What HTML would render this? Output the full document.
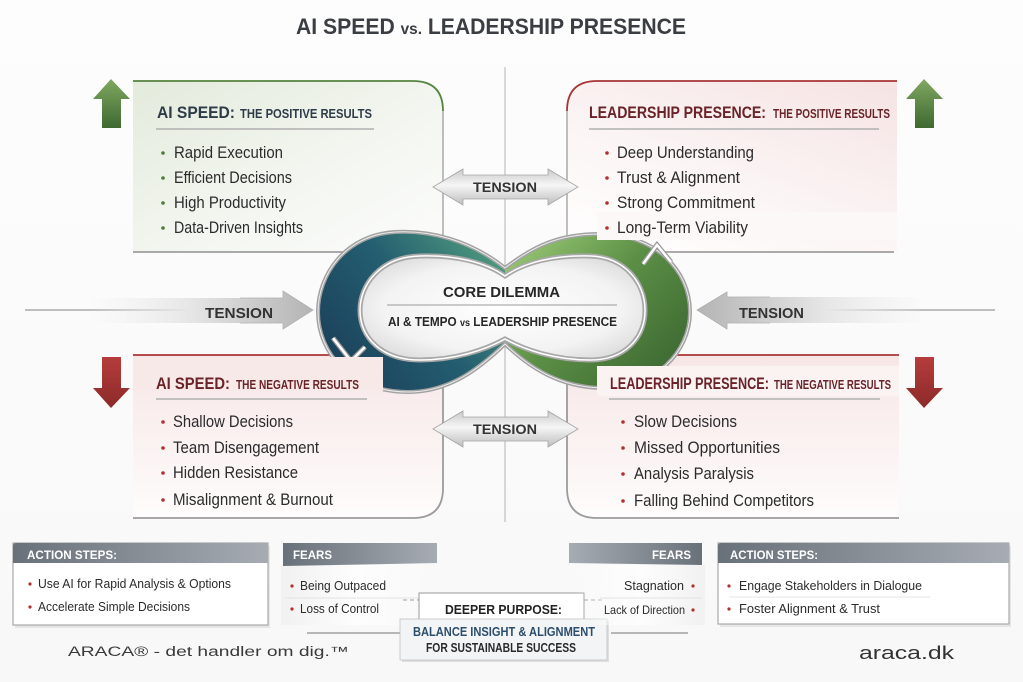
<!DOCTYPE html>
<html><head><meta charset="utf-8">
<style>
html,body{margin:0;padding:0;background:#fcfcfc;}
svg{display:block;}
text{font-family:"Liberation Sans",Arial,sans-serif;}
</style></head><body>
<svg width="1023" height="682" viewBox="0 0 1023 682" xmlns="http://www.w3.org/2000/svg">
<defs>
 <linearGradient id="bg" x1="0" y1="0" x2="0" y2="1"><stop offset="0" stop-color="#fdfdfd"/><stop offset="1" stop-color="#f8f8f8"/></linearGradient>
 <linearGradient id="gArrow" x1="0" y1="0" x2="0" y2="1"><stop offset="0" stop-color="#80a862"/><stop offset="1" stop-color="#3e6930"/></linearGradient>
 <linearGradient id="rArrow" x1="0" y1="0" x2="0" y2="1"><stop offset="0" stop-color="#b63c3c"/><stop offset="1" stop-color="#8c2a2a"/></linearGradient>
 <linearGradient id="gFill" x1="0" y1="0" x2="1" y2="1"><stop offset="0" stop-color="#e3ebdc"/><stop offset="0.55" stop-color="#f3f6f0"/><stop offset="1" stop-color="#fcfcfb"/></linearGradient>
 <linearGradient id="pFillR" x1="1" y1="0" x2="0.3" y2="1"><stop offset="0" stop-color="#f6e3e3"/><stop offset="0.6" stop-color="#fbf4f4"/><stop offset="1" stop-color="#fefcfc"/></linearGradient>
 <linearGradient id="pFillB" x1="0" y1="0" x2="0" y2="1"><stop offset="0" stop-color="#f7e6e6"/><stop offset="1" stop-color="#fefcfc"/></linearGradient>
 <linearGradient id="tens" x1="0" y1="0" x2="0" y2="1"><stop offset="0" stop-color="#c9c9c9"/><stop offset="0.45" stop-color="#f6f6f6"/><stop offset="1" stop-color="#bdbdbd"/></linearGradient>
 <linearGradient id="tensL" x1="90" y1="0" x2="313" y2="0" gradientUnits="userSpaceOnUse"><stop offset="0" stop-color="#eeeeee" stop-opacity="0"/><stop offset="0.45" stop-color="#e6e6e6"/><stop offset="1" stop-color="#b4b4b4"/></linearGradient>
 <linearGradient id="tensR" x1="930" y1="0" x2="697" y2="0" gradientUnits="userSpaceOnUse"><stop offset="0" stop-color="#eeeeee" stop-opacity="0"/><stop offset="0.45" stop-color="#e6e6e6"/><stop offset="1" stop-color="#b4b4b4"/></linearGradient>
 <linearGradient id="bandL" x1="330" y1="385" x2="500" y2="255" gradientUnits="userSpaceOnUse"><stop offset="0" stop-color="#1a3d58"/><stop offset="0.55" stop-color="#245e70"/><stop offset="1" stop-color="#4f9a7e"/></linearGradient>
 <linearGradient id="bandR" x1="530" y1="235" x2="680" y2="380" gradientUnits="userSpaceOnUse"><stop offset="0" stop-color="#95c472"/><stop offset="0.45" stop-color="#5b8e45"/><stop offset="1" stop-color="#3a6530"/></linearGradient>
 <radialGradient id="lens" cx="0.5" cy="0.5" r="0.6"><stop offset="0" stop-color="#ffffff"/><stop offset="0.7" stop-color="#f3f3f3"/><stop offset="1" stop-color="#dcdcdc"/></radialGradient>
 <linearGradient id="hdr" x1="0" y1="0" x2="1" y2="0"><stop offset="0" stop-color="#687079"/><stop offset="1" stop-color="#a7acb3"/></linearGradient>
 <linearGradient id="hdrR" x1="1" y1="0" x2="0" y2="0"><stop offset="0" stop-color="#687079"/><stop offset="1" stop-color="#a7acb3"/></linearGradient>
 <linearGradient id="titleLine" x1="0" y1="0" x2="1" y2="0"><stop offset="0" stop-color="#8f8f8f"/><stop offset="0.6" stop-color="#9a9a9a"/><stop offset="1" stop-color="#c8c8c8"/></linearGradient>
 <linearGradient id="fearL" x1="0" y1="0" x2="1" y2="0"><stop offset="0" stop-color="#f1f1f1"/><stop offset="0.5" stop-color="#fdfdfd"/><stop offset="1" stop-color="#fdfdfd" stop-opacity="0"/></linearGradient>
 <linearGradient id="fearR" x1="1" y1="0" x2="0" y2="0"><stop offset="0" stop-color="#f1f1f1"/><stop offset="0.5" stop-color="#fdfdfd"/><stop offset="1" stop-color="#fdfdfd" stop-opacity="0"/></linearGradient>
 <clipPath id="cL"><rect x="0" y="0" width="505" height="682"/></clipPath>
 <clipPath id="cR"><rect x="505" y="0" width="518" height="682"/></clipPath>
</defs>

<rect width="1023" height="682" fill="url(#bg)"/>

<!-- Title -->
<text x="296" y="34" font-size="22" font-weight="bold" fill="#3a3d42" textLength="390" lengthAdjust="spacingAndGlyphs">AI SPEED <tspan font-size="16">vs.</tspan> LEADERSHIP PRESENCE</text>
<line x1="12" y1="47" x2="1010" y2="47" stroke="url(#titleLine)" stroke-width="1.6"/>

<!-- grid lines -->
<line x1="505" y1="67" x2="505" y2="522" stroke="#c4c4c4" stroke-width="1.3"/>

<!-- TL box -->
<path d="M133,81 L413,81 Q443,81 443,111 L443,252 L133,252 Z" fill="url(#gFill)"/>
<path d="M133,81 L413,81 Q443,81 443,111" fill="none" stroke="#55833f" stroke-width="1.8"/>
<path d="M443,111 L443,252" fill="none" stroke="#a9a9a9" stroke-width="1.5"/>
<line x1="133" y1="252" x2="443" y2="252" stroke="#9e9e9e" stroke-width="1.8"/>

<!-- TR box -->
<path d="M897,81 L597,81 Q567,81 567,111 L567,252 L897,252 Z" fill="url(#pFillR)"/>
<path d="M897,81 L597,81 Q567,81 567,111" fill="none" stroke="#a83535" stroke-width="1.8"/>
<path d="M567,111 L567,252" fill="none" stroke="#a9a9a9" stroke-width="1.5"/>
<line x1="567" y1="252" x2="894" y2="252" stroke="#9e9e9e" stroke-width="1.8"/>

<!-- middle vertical connectors -->
<line x1="443" y1="252" x2="443" y2="355" stroke="#bcbcbc" stroke-width="1.3"/>
<line x1="567" y1="252" x2="567" y2="355" stroke="#bcbcbc" stroke-width="1.3"/>

<!-- BL box -->
<path d="M133,355 L443,355 L443,488 Q443,518 413,518 L133,518 Z" fill="url(#pFillB)"/>
<line x1="133" y1="355" x2="443" y2="355" stroke="#a83535" stroke-width="1.8"/>
<path d="M443,355 L443,488 Q443,518 413,518 L133,518" fill="none" stroke="#9c9c9c" stroke-width="1.8"/>

<!-- BR box -->
<path d="M899,355 L567,355 L567,488 Q567,518 597,518 L899,518 Z" fill="url(#pFillB)"/>
<line x1="567" y1="355" x2="899" y2="355" stroke="#a83535" stroke-width="1.8"/>
<path d="M567,355 L567,488 Q567,518 597,518 L899,518" fill="none" stroke="#9c9c9c" stroke-width="1.8"/>

<!-- green up arrows -->
<path d="M111,79 L130,99 L121,99 L121,128 L102,128 L102,99 L93,99 Z" fill="url(#gArrow)"/>
<path d="M924,79 L943,99 L934,99 L934,128 L915,128 L915,99 L906,99 Z" fill="url(#gArrow)"/>
<!-- red down arrows -->
<path d="M102,357 L121,357 L121,388 L130,388 L111,408 L93,388 L102,388 Z" fill="url(#rArrow)"/>
<path d="M915,357 L934,357 L934,388 L943,388 L924,408 L906,388 L915,388 Z" fill="url(#rArrow)"/>

<!-- TL text -->
<text x="157" y="118" font-size="16.5" font-weight="bold" fill="#2e3c48" textLength="78" lengthAdjust="spacingAndGlyphs">AI SPEED:</text>
<text x="240" y="118" font-size="13" font-weight="bold" fill="#2e3c48" textLength="132" lengthAdjust="spacingAndGlyphs">THE POSITIVE RESULTS</text>
<line x1="156" y1="129" x2="374" y2="129" stroke="#b0b0b0" stroke-width="1.5"/>
<g fill="#4f7a3a"><circle cx="163" cy="153" r="1.8"/><circle cx="163" cy="178" r="1.8"/><circle cx="163" cy="203" r="1.8"/><circle cx="163" cy="228" r="1.8"/></g>
<g font-size="16.5" fill="#2b2b2b">
<text x="174" y="158" textLength="109" lengthAdjust="spacingAndGlyphs">Rapid Execution</text>
<text x="174" y="183" textLength="118" lengthAdjust="spacingAndGlyphs">Efficient Decisions</text>
<text x="174" y="208" textLength="112" lengthAdjust="spacingAndGlyphs">High Productivity</text>
<text x="174" y="233" textLength="129" lengthAdjust="spacingAndGlyphs">Data-Driven Insights</text>
</g>

<!-- Infinity -->
<g>
 <path id="outer" d="M505,268 C470,240 430,230 395,232 C345,235 318,275 318,312 C318,352 350,392 408,392 C450,392 480,368 505,344 C530,368 560,388 605,388 C655,388 690,352 690,312 C690,270 655,234 600,234 C560,234 535,245 505,268 Z" fill="url(#bandL)" clip-path="url(#cL)"/>
 <path d="M505,268 C470,240 430,230 395,232 C345,235 318,275 318,312 C318,352 350,392 408,392 C450,392 480,368 505,344 C530,368 560,388 605,388 C655,388 690,352 690,312 C690,270 655,234 600,234 C560,234 535,245 505,268 Z" fill="url(#bandR)" clip-path="url(#cR)"/>
 <path d="M505,268 C470,240 430,230 395,232 C345,235 318,275 318,312 C318,352 350,392 408,392 C450,392 480,368 505,344 C530,368 560,388 605,388 C655,388 690,352 690,312 C690,270 655,234 600,234 C560,234 535,245 505,268 Z" fill="none" stroke="#a2a2a2" stroke-width="4"/>
 <path d="M505,268 C470,240 430,230 395,232 C345,235 318,275 318,312 C318,352 350,392 408,392 C450,392 480,368 505,344 C530,368 560,388 605,388 C655,388 690,352 690,312 C690,270 655,234 600,234 C560,234 535,245 505,268 Z" fill="none" stroke="#ffffff" stroke-width="1" opacity="0.8"/>
 <!-- notches -->
 <polyline points="333,338 351,361 365,347" fill="none" stroke="#9a9a9a" stroke-width="5"/>
 <polyline points="333,338 351,361 365,347" fill="none" stroke="#ffffff" stroke-width="2.5"/>
 <polyline points="643,264 657,245 671,262" fill="none" stroke="#9a9a9a" stroke-width="5"/>
 <polyline points="643,264 657,245 671,262" fill="none" stroke="#ffffff" stroke-width="2.5"/>
 <!-- inner lens -->
 <path d="M505,276 C485,262 455,255 420,256 C380,257 360,285 360,310 C360,338 382,360 420,360 C455,360 485,350 505,339 C525,350 555,360 590,360 C625,360 645,338 645,310 C645,283 625,257 590,256 C555,255 525,262 505,276 Z" fill="url(#lens)" stroke="#a8a8a8" stroke-width="5"/>
 <path d="M505,276 C485,262 455,255 420,256 C380,257 360,285 360,310 C360,338 382,360 420,360 C455,360 485,350 505,339 C525,350 555,360 590,360 C625,360 645,338 645,310 C645,283 625,257 590,256 C555,255 525,262 505,276 Z" fill="none" stroke="#ffffff" stroke-width="1.5"/>
</g>
<text x="443" y="297" font-size="15" font-weight="bold" fill="#262626" textLength="117" lengthAdjust="spacingAndGlyphs">CORE DILEMMA</text>
<line x1="387" y1="305" x2="617" y2="305" stroke="#9a9a9a" stroke-width="1"/>
<text x="388" y="326" font-size="13" font-weight="bold" fill="#262626" textLength="229" lengthAdjust="spacingAndGlyphs">AI &amp; TEMPO <tspan font-size="10">vs</tspan> LEADERSHIP PRESENCE</text>

<!-- overlays covering infinity -->
<rect x="597" y="212" width="300" height="28" fill="#fdf8f8"/>
<rect x="597" y="366" width="302" height="30" fill="#fbf2f2"/>
<rect x="133" y="357" width="250" height="34" fill="#f8e9e9"/>

<!-- TR text -->
<text x="589" y="118" font-size="16.5" font-weight="bold" fill="#6a2329" textLength="177" lengthAdjust="spacingAndGlyphs">LEADERSHIP PRESENCE:</text>
<text x="773" y="118" font-size="13" font-weight="bold" fill="#6a2329" textLength="117" lengthAdjust="spacingAndGlyphs">THE POSITIVE RESULTS</text>
<line x1="589" y1="129" x2="879" y2="129" stroke="#b0b0b0" stroke-width="1.5"/>
<g fill="#b03030"><circle cx="607" cy="153" r="1.8"/><circle cx="607" cy="178" r="1.8"/><circle cx="607" cy="203" r="1.8"/><circle cx="607" cy="228" r="1.8"/></g>
<g font-size="16.5" fill="#2b2b2b">
<text x="617" y="158" textLength="137" lengthAdjust="spacingAndGlyphs">Deep Understanding</text>
<text x="617" y="183" textLength="123" lengthAdjust="spacingAndGlyphs">Trust &amp; Alignment</text>
<text x="617" y="208" textLength="138" lengthAdjust="spacingAndGlyphs">Strong Commitment</text>
<text x="617" y="233" textLength="131" lengthAdjust="spacingAndGlyphs">Long-Term Viability</text>
</g>

<!-- BL text -->
<text x="156" y="389" font-size="17" font-weight="bold" fill="#6a2329" textLength="74" lengthAdjust="spacingAndGlyphs">AI SPEED:</text>
<text x="236" y="389" font-size="13" font-weight="bold" fill="#6a2329" textLength="123" lengthAdjust="spacingAndGlyphs">THE NEGATIVE RESULTS</text>
<line x1="156" y1="399" x2="367" y2="399" stroke="#b0b0b0" stroke-width="1.5"/>
<g fill="#b03030"><circle cx="163" cy="422" r="1.8"/><circle cx="163" cy="448" r="1.8"/><circle cx="163" cy="473" r="1.8"/><circle cx="163" cy="500" r="1.8"/></g>
<g font-size="16.5" fill="#2b2b2b">
<text x="173" y="427" textLength="120" lengthAdjust="spacingAndGlyphs">Shallow Decisions</text>
<text x="173" y="453" textLength="146" lengthAdjust="spacingAndGlyphs">Team Disengagement</text>
<text x="173" y="478" textLength="125" lengthAdjust="spacingAndGlyphs">Hidden Resistance</text>
<text x="173" y="505" textLength="160" lengthAdjust="spacingAndGlyphs">Misalignment &amp; Burnout</text>
</g>

<!-- BR text -->
<text x="610" y="389" font-size="17" font-weight="bold" fill="#6a2329" textLength="159" lengthAdjust="spacingAndGlyphs">LEADERSHIP PRESENCE:</text>
<text x="774" y="389" font-size="13" font-weight="bold" fill="#6a2329" textLength="117" lengthAdjust="spacingAndGlyphs">THE NEGATIVE RESULTS</text>
<line x1="609" y1="399" x2="880" y2="399" stroke="#b0b0b0" stroke-width="1.5"/>
<g fill="#b03030"><circle cx="623" cy="422" r="1.8"/><circle cx="623" cy="448" r="1.8"/><circle cx="623" cy="474" r="1.8"/><circle cx="623" cy="501" r="1.8"/></g>
<g font-size="16.5" fill="#2b2b2b">
<text x="634" y="427" textLength="103" lengthAdjust="spacingAndGlyphs">Slow Decisions</text>
<text x="634" y="453" textLength="146" lengthAdjust="spacingAndGlyphs">Missed Opportunities</text>
<text x="634" y="479" textLength="120" lengthAdjust="spacingAndGlyphs">Analysis Paralysis</text>
<text x="634" y="506" textLength="180" lengthAdjust="spacingAndGlyphs">Falling Behind Competitors</text>
</g>

<!-- Tension arrows -->
<path d="M433,187 L463,169 L463,175 L548,175 L548,169 L578,187 L548,205 L548,199 L463,199 L463,205 Z" fill="url(#tens)" stroke="#a5a5a5" stroke-width="0.8"/>
<text x="473" y="192" font-size="14" font-weight="bold" fill="#333" textLength="64" lengthAdjust="spacingAndGlyphs">TENSION</text>
<path d="M433,429 L463,411 L463,417 L548,417 L548,411 L578,429 L548,447 L548,441 L463,441 L463,447 Z" fill="url(#tens)" stroke="#a5a5a5" stroke-width="0.8"/>
<text x="473" y="434" font-size="14" font-weight="bold" fill="#333" textLength="64" lengthAdjust="spacingAndGlyphs">TENSION</text>

<line x1="25" y1="310" x2="187" y2="310" stroke="#9a9a9a" stroke-width="1.3"/>
<path d="M90,298 L283,298 L283,291 L313,310 L283,329 L283,323 L90,323 Z" fill="url(#tensL)"/>
<path d="M240,298 L283,298 L283,291 L313,310 L283,329 L283,323 L240,323" fill="none" stroke="#b0b0b0" stroke-width="0.8"/>
<text x="205" y="318" font-size="15" font-weight="bold" fill="#333" textLength="68" lengthAdjust="spacingAndGlyphs">TENSION</text>

<line x1="822" y1="310" x2="995" y2="310" stroke="#9a9a9a" stroke-width="1.3"/>
<path d="M920,297 L727,297 L727,292 L697,310 L727,329 L727,323 L920,323 Z" fill="url(#tensR)"/>
<path d="M770,297 L727,297 L727,292 L697,310 L727,329 L727,323 L770,323" fill="none" stroke="#b0b0b0" stroke-width="0.8"/>
<text x="739" y="318" font-size="15" font-weight="bold" fill="#333" textLength="65" lengthAdjust="spacingAndGlyphs">TENSION</text>

<!-- Bottom: left action steps -->
<rect x="15" y="546" width="255" height="82" fill="#d8d8d8" opacity="0.6"/>
<rect x="13" y="543" width="255" height="82" fill="#ffffff" stroke="#a9a9a9" stroke-width="1.2"/>
<path d="M13,563 L13,546 Q13,543 16,543 L265,543 Q268,543 268,546 L268,563 Z" fill="url(#hdr)"/>
<text x="27" y="559" font-size="12" font-weight="bold" fill="#ffffff" textLength="90" lengthAdjust="spacingAndGlyphs">ACTION STEPS:</text>
<g fill="#b03030"><circle cx="30" cy="584" r="1.6"/><circle cx="30" cy="607" r="1.6"/></g>
<g font-size="13" fill="#2b2b2b">
<text x="38" y="588" textLength="193" lengthAdjust="spacingAndGlyphs">Use AI for Rapid Analysis &amp; Options</text>
<text x="38" y="611" textLength="152" lengthAdjust="spacingAndGlyphs">Accelerate Simple Decisions</text>
</g>

<!-- left fears -->
<rect x="281" y="565" width="150" height="60" fill="url(#fearL)"/>
<path d="M283,543 L437,543 L437,563 L283,566 Z" fill="url(#hdr)"/>
<text x="293" y="559" font-size="12" font-weight="bold" fill="#ffffff" textLength="39" lengthAdjust="spacingAndGlyphs">FEARS</text>
<line x1="285" y1="598" x2="420" y2="598" stroke="#e2e2e2" stroke-width="1"/>
<g fill="#b03030"><circle cx="292" cy="586" r="1.6"/><circle cx="292" cy="609" r="1.6"/></g>
<g font-size="13" fill="#2b2b2b">
<text x="300" y="590" textLength="86" lengthAdjust="spacingAndGlyphs">Being Outpaced</text>
<text x="300" y="613" textLength="79" lengthAdjust="spacingAndGlyphs">Loss of Control</text>
</g>
<line x1="307" y1="633" x2="400" y2="633" stroke="#a0a0a0" stroke-width="1.5"/>
<line x1="403" y1="600" x2="419" y2="600" stroke="#999" stroke-width="1" stroke-dasharray="4,3"/>

<!-- deeper purpose -->
<rect x="419" y="593" width="165" height="30" fill="#ffffff" stroke="#9a9a9a" stroke-width="1"/>
<text x="445" y="614" font-size="13" font-weight="bold" fill="#222" textLength="117" lengthAdjust="spacingAndGlyphs">DEEPER PURPOSE:</text>
<rect x="402" y="621" width="207" height="41" fill="#cfcfcf" opacity="0.6"/>
<rect x="400" y="619" width="207" height="41" fill="#f3f4f5" stroke="#c0c0c0" stroke-width="0.8"/>
<text x="413" y="636" font-size="12.5" font-weight="bold" fill="#2c4e6c" textLength="182" lengthAdjust="spacingAndGlyphs">BALANCE INSIGHT &amp; ALIGNMENT</text>
<text x="426" y="652" font-size="12.5" font-weight="bold" fill="#2a2a2a" textLength="150" lengthAdjust="spacingAndGlyphs">FOR SUSTAINABLE SUCCESS</text>
<line x1="584" y1="600" x2="602" y2="600" stroke="#999" stroke-width="1" stroke-dasharray="4,3"/>
<line x1="611" y1="633" x2="688" y2="633" stroke="#a0a0a0" stroke-width="1.5"/>

<!-- right fears -->
<rect x="575" y="565" width="130" height="60" fill="url(#fearR)"/>
<path d="M569,543 L702,543 L702,565 L569,563 Z" fill="url(#hdrR)"/>
<text x="652" y="559" font-size="12" font-weight="bold" fill="#ffffff" textLength="39" lengthAdjust="spacingAndGlyphs">FEARS</text>
<line x1="600" y1="598" x2="702" y2="598" stroke="#e2e2e2" stroke-width="1"/>
<g fill="#b03030"><circle cx="693" cy="586" r="1.6"/><circle cx="693" cy="610" r="1.6"/></g>
<text x="624" y="590" font-size="13" fill="#2b2b2b" textLength="60" lengthAdjust="spacingAndGlyphs">Stagnation</text>
<text x="604" y="614" font-size="12" fill="#2b2b2b" textLength="81" lengthAdjust="spacingAndGlyphs">Lack of Direction</text>

<!-- right action steps -->
<rect x="720" y="546" width="291" height="81" fill="#d8d8d8" opacity="0.6"/>
<rect x="718" y="543" width="291" height="81" fill="#ffffff" stroke="#a9a9a9" stroke-width="1.2"/>
<path d="M718,563 L718,546 Q718,543 721,543 L1006,543 Q1009,543 1009,546 L1009,563 Z" fill="url(#hdr)"/>
<text x="730" y="559" font-size="12" font-weight="bold" fill="#ffffff" textLength="88" lengthAdjust="spacingAndGlyphs">ACTION STEPS:</text>
<line x1="729" y1="597" x2="930" y2="597" stroke="#e6e6e6" stroke-width="1"/>
<g fill="#b03030"><circle cx="729" cy="586" r="1.6"/><circle cx="729" cy="609" r="1.6"/></g>
<g font-size="13" fill="#2b2b2b">
<text x="739" y="590" textLength="183" lengthAdjust="spacingAndGlyphs">Engage Stakeholders in Dialogue</text>
<text x="739" y="613" textLength="141" lengthAdjust="spacingAndGlyphs">Foster Alignment &amp; Trust</text>
</g>

<!-- footer -->
<text x="68" y="656" font-size="13.5" fill="#3a3a3a" textLength="281" lengthAdjust="spacingAndGlyphs">ARACA® - det handler om dig.™</text>
<text x="859" y="659" font-size="18" fill="#333" textLength="95" lengthAdjust="spacingAndGlyphs">araca.dk</text>
</svg>
</body></html>
